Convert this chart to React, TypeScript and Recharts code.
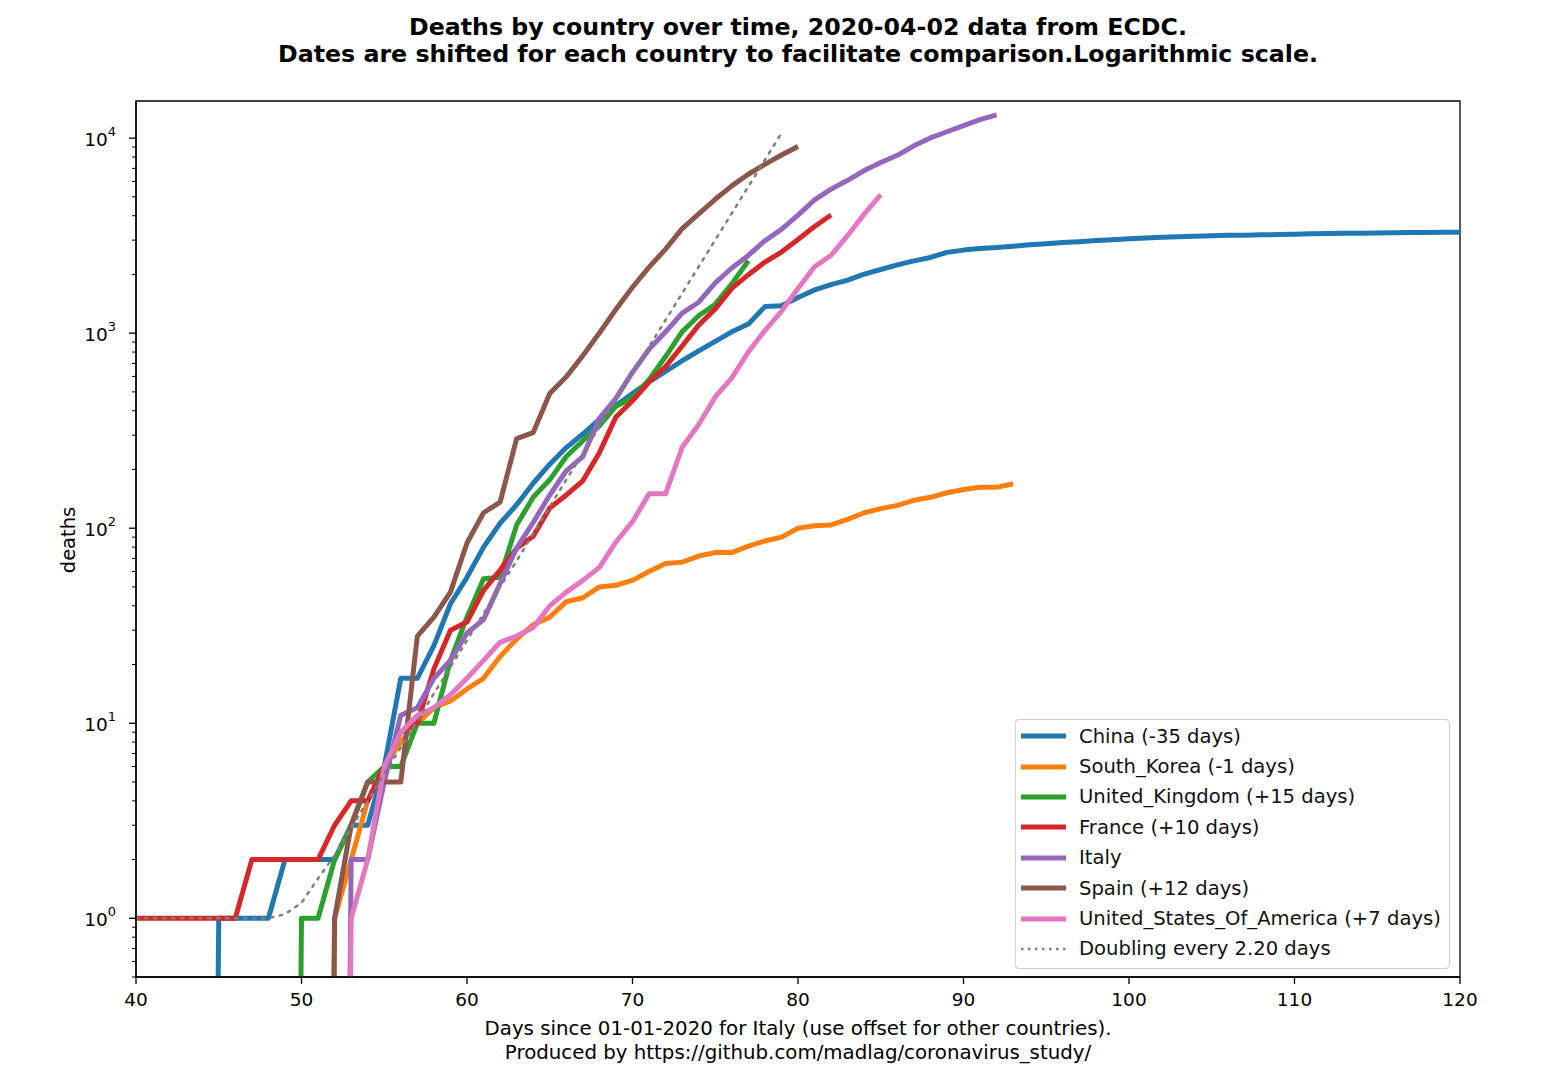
import { Legend, Line, LineChart, ReferenceArea, XAxis, YAxis } from "recharts";

const FONT = "'DejaVu Sans', sans-serif";

// days since 01-01-2020 (Italy reference), each country already shifted
const xTicks = [40, 50, 60, 70, 80, 90, 100, 110, 120];
const yTicks = [
  0.5, 0.6, 0.7, 0.8, 0.9,
  1, 2, 3, 4, 5, 6, 7, 8, 9,
  10, 20, 30, 40, 50, 60, 70, 80, 90,
  100, 200, 300, 400, 500, 600, 700, 800, 900,
  1000, 2000, 3000, 4000, 5000, 6000, 7000, 8000, 9000,
  10000,
];

const chinaStart = 44;
const chinaDeaths = [
  0, 1, 1, 1, 1, 2, 2, 2, 2, 3, 3, 6, 17, 17, 25, 41, 56, 80, 106, 132, 170, 213, 259, 304, 361,
  425, 490, 563, 636, 722, 811, 908, 1016, 1113, 1368, 1381, 1524, 1666, 1772, 1870, 2006, 2121,
  2239, 2348, 2445, 2595, 2666, 2718, 2747, 2791, 2838, 2873, 2915, 2946, 2984, 3015, 3045, 3073,
  3099, 3123, 3140, 3162, 3173, 3180, 3194, 3203, 3217, 3230, 3241, 3249, 3253, 3261, 3270, 3277,
  3281, 3287, 3292,
];

const koreaStart = 51;
const koreaDeaths = [
  0, 1, 2, 4, 6, 8, 10, 12, 13, 15, 17, 22, 27, 32, 35, 42, 44, 50, 51, 54, 60, 66, 67, 72, 75, 75,
  81, 86, 90, 100, 103, 104, 111, 120, 126, 131, 139, 144, 152, 158, 162, 162, 169,
];

const ukStart = 49;
const ukDeaths = [
  0, 1, 1, 2, 3, 5, 6, 6, 10, 10, 21, 35, 55, 56, 104, 144, 177, 233, 281, 335, 422, 465, 578, 759,
  1019, 1228, 1408, 1789, 2352,
];

const franceStart = 40;
const franceDeaths = [
  1, 1, 1, 1, 1, 1, 1, 2, 2, 2, 2, 2, 3, 4, 4, 6, 9, 10, 19, 30, 33, 48, 61, 79, 91, 127, 148, 175,
  244, 372, 450, 562, 674, 860, 1100, 1331, 1696, 1995, 2314, 2606, 3024, 3523, 4032,
];

const italyStart = 52;
const italyDeaths = [
  0, 2, 2, 5, 11, 12, 17, 21, 29, 34, 52, 79, 107, 148, 197, 233, 366, 463, 631, 827, 1016, 1266,
  1441, 1809, 2158, 2503, 2978, 3405, 4032, 4825, 5476, 6077, 6820, 7503, 8165, 9134, 10023, 10779,
  11591, 12428, 13155,
];

const spainStart = 51;
const spainDeaths = [
  0, 1, 3, 5, 5, 5, 28, 35, 47, 84, 120, 136, 288, 309, 491, 598, 767, 1002, 1326, 1720, 2182,
  2696, 3434, 4089, 4858, 5690, 6528, 7340, 8189, 9053,
];

const usaStart = 52;
const usaDeaths = [
  0, 1, 2, 6, 9, 11, 12, 14, 17, 21, 26, 28, 31, 40, 47, 54, 63, 85, 108, 150, 150, 260, 340, 471,
  590, 801, 1031, 1295, 1695, 2191, 2509, 3170, 4076, 5138,
];

const doublingStart = 40;
const doublingDeaths = [
  1, 1, 1, 1, 1, 1, 1, 1, 1, 1.05, 1.2, 1.6, 2.1, 2.9, 4.0, 5.5, 7.5, 10.3, 14.2, 19.4, 26.6, 36.5,
  50, 68, 94, 129, 177, 242, 332, 454, 623, 853, 1168, 1601, 2194, 3006, 4120, 5645, 7735, 10600,
];

// log axis cannot show zero deaths: push them far below the visible range
const FLOOR = 1e-9;

const toPoints = (start: number, values: number[]) =>
  values.map((v, i) => ({ day: start + i, deaths: v > 0 ? v : FLOOR }));

const countries = [
  { key: "china", label: "China (-35 days)", color: "#1f77b4", start: chinaStart, values: chinaDeaths },
  { key: "korea", label: "South_Korea (-1 days)", color: "#ff7f0e", start: koreaStart, values: koreaDeaths },
  { key: "uk", label: "United_Kingdom (+15 days)", color: "#2ca02c", start: ukStart, values: ukDeaths },
  { key: "france", label: "France (+10 days)", color: "#d62728", start: franceStart, values: franceDeaths },
  { key: "italy", label: "Italy", color: "#9467bd", start: italyStart, values: italyDeaths },
  { key: "spain", label: "Spain (+12 days)", color: "#8c564b", start: spainStart, values: spainDeaths },
  { key: "usa", label: "United_States_Of_America (+7 days)", color: "#e377c2", start: usaStart, values: usaDeaths },
];

const doubling = {
  label: "Doubling every 2.20 days",
  color: "#7f7f7f",
  start: doublingStart,
  values: doublingDeaths,
};

function LogTick({ x, y, payload }: any) {
  const v = Number(payload.value);
  const p = Math.log10(v);
  const major = Math.abs(p - Math.round(p)) < 1e-9;
  const ax = x + 13;
  return (
    <g>
      <line
        x1={ax - (major ? 7 : 4)}
        x2={ax}
        y1={y}
        y2={y}
        stroke="#000"
        strokeWidth={major ? 1.3 : 1}
      />
      {major && (
        <text x={ax - 20} y={y + 7.5} fontSize={18.5} fontFamily={FONT} fill="#000" textAnchor="end">
          <tspan>10</tspan>
          <tspan dy={-10} fontSize={13}>
            {Math.round(p)}
          </tspan>
        </text>
      )}
    </g>
  );
}

function LegendBox() {
  const rows = [
    ...countries.map((c) => ({ label: c.label, color: c.color, dotted: false })),
    { label: doubling.label, color: doubling.color, dotted: true },
  ];
  return (
    <div
      style={{
        boxSizing: "border-box",
        width: 435,
        height: 250,
        border: "1px solid #d0d0d0",
        borderRadius: 4,
        background: "rgba(255,255,255,0.85)",
        padding: "1px 0 4px 0",
        fontFamily: FONT,
        fontSize: 19.6,
        color: "#111",
      }}
    >
      {rows.map((r) => (
        <div key={r.label} style={{ display: "flex", alignItems: "center", height: 30.4 }}>
          <svg width={58} height={10} style={{ marginLeft: 5, flexShrink: 0 }}>
            <line
              x1={0}
              x2={45}
              y1={5}
              y2={5}
              stroke={r.color}
              strokeWidth={r.dotted ? 2.5 : 5}
              strokeDasharray={r.dotted ? "2.5 4.5" : undefined}
            />
          </svg>
          <span style={{ whiteSpace: "nowrap" }}>{r.label}</span>
        </div>
      ))}
    </div>
  );
}

export default function App() {
  return (
    <div
      style={{
        position: "absolute",
        left: 0,
        top: 0,
        width: 1566,
        height: 1086,
        background: "#fff",
        fontFamily: FONT,
        color: "#000",
      }}
    >
      <div
        style={{
          position: "absolute",
          left: 136,
          top: 14,
          width: 1324,
          textAlign: "center",
          fontWeight: "bold",
          fontSize: 23.7,
          lineHeight: "27px",
        }}
      >
        <div>Deaths by country over time, 2020-04-02 data from ECDC.</div>
        <div>Dates are shifted for each country to facilitate comparison.Logarithmic scale.</div>
      </div>

      <div
        style={{
          position: "absolute",
          left: 68,
          top: 540,
          transform: "translate(-50%, -50%) rotate(-90deg)",
          fontSize: 19.5,
          whiteSpace: "nowrap",
        }}
      >
        deaths
      </div>

      <div
        style={{
          position: "absolute",
          left: 136,
          top: 1017,
          width: 1324,
          textAlign: "center",
          fontSize: 19.8,
          lineHeight: "24px",
        }}
      >
        <div>Days since 01-01-2020 for Italy (use offset for other countries).</div>
        <div>Produced by https://github.com/madlag/coronavirus_study/</div>
      </div>

      <div style={{ position: "absolute", left: 0, top: 0 }}>
        <LineChart width={1566} height={1086} margin={{ top: 101, right: 106, bottom: 69, left: 76 }}>
          <XAxis
            dataKey="day"
            type="number"
            domain={[40, 120]}
            allowDataOverflow
            ticks={xTicks}
            interval={0}
            height={40}
            tickSize={7}
            tickMargin={9}
            tick={{ fontSize: 18.5, fill: "#000", fontFamily: FONT }}
            tickLine={{ stroke: "#000", strokeWidth: 1.3 }}
            axisLine={{ stroke: "#000", strokeWidth: 1.3 }}
          />
          <YAxis
            type="number"
            scale="log"
            domain={[0.5, 15500]}
            allowDataOverflow
            ticks={yTicks}
            interval={0}
            width={60}
            tickSize={7}
            tickMargin={6}
            tickLine={false}
            tick={(p: any) => <LogTick {...p} />}
            axisLine={{ stroke: "#000", strokeWidth: 1.3 }}
          />
          <ReferenceArea
            x1={40}
            x2={120}
            y1={0.5}
            y2={15500}
            ifOverflow="visible"
            fill="none"
            fillOpacity={0}
            stroke="#000"
            strokeWidth={1.3}
          />
          {countries.map((c) => (
            <Line
              key={c.key}
              data={toPoints(c.start, c.values)}
              dataKey="deaths"
              name={c.label}
              type="linear"
              stroke={c.color}
              strokeWidth={5}
              strokeLinejoin="round"
              dot={false}
              activeDot={false}
              isAnimationActive={false}
            />
          ))}
          <Line
            data={toPoints(doubling.start, doubling.values)}
            dataKey="deaths"
            name={doubling.label}
            type="linear"
            stroke={doubling.color}
            strokeWidth={2.5}
            strokeDasharray="2.5 6.5"
            strokeLinecap="round"
            dot={false}
            activeDot={false}
            isAnimationActive={false}
          />
          <Legend
            layout="vertical"
            align="center"
            verticalAlign="middle"
            wrapperStyle={{ left: 1015, top: 719, width: 435, height: 250 }}
            content={() => <LegendBox />}
          />
        </LineChart>
      </div>
    </div>
  );
}
